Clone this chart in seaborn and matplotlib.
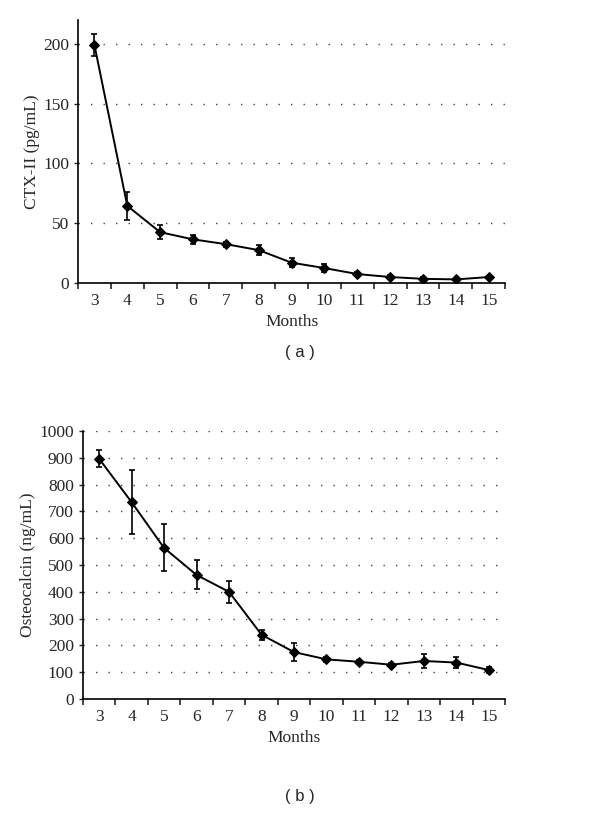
import numpy as np
import pandas as pd
import matplotlib
matplotlib.use('Agg')
import matplotlib.pyplot as plt
import seaborn as sns

# values (mean +/- error)
months = [3, 4, 5, 6, 7, 8, 9, 10, 11, 12, 13, 14, 15]
ctx_mean = [199, 64.5, 42.5, 36.5, 32.5, 27.5, 17, 12.5, 7.5, 5, 3.5, 3, 5]
ctx_err = [9, 12, 6, 4, 2, 4, 4, 3, 2, 1.5, 1.5, 1, 1]
ost_mean = [897, 735, 564, 463, 400, 240, 175, 148, 139, 128, 142, 136, 108]
ost_err = [31, 118, 88, 54, 42, 18, 33, 8, 8, 6, 25, 21, 12]

sns.set_style('white')
plt.rcParams['font.family'] = ['Liberation Serif', 'DejaVu Serif']
plt.rcParams['font.size'] = 12

fig = plt.figure(figsize=(6, 8.17), dpi=100)
ax1 = fig.add_axes([0.13, 0.6536, 0.712, 0.322])
ax2 = fig.add_axes([0.138, 0.1444, 0.704, 0.328])


def draw(ax, mean, err, ylabel, ylim, yticks):
    df = pd.DataFrame({'pos': np.arange(len(months)), 'val': mean})
    ax.yaxis.grid(True, color='#444444', linestyle=(0, (1, 8)), lw=1)
    ax.set_axisbelow(True)
    ax.errorbar(df['pos'], df['val'], yerr=err, fmt='none', ecolor='k',
                elinewidth=1.2, capsize=2, capthick=1.2, zorder=3)
    sns.lineplot(data=df, x='pos', y='val', ax=ax, color='k', lw=1.4,
                 marker='D', markersize=5.5, markeredgecolor='k', zorder=4)
    ax.set_xlim(-0.5, len(months) - 0.5)
    ax.set_ylim(*ylim)
    ax.set_yticks(yticks)
    ax.set_xticks(np.arange(len(months)))
    ax.set_xticklabels([str(m) for m in months])
    ax.set_xticks(np.arange(len(months) + 1) - 0.5, minor=True)
    ax.tick_params(axis='x', which='major', length=0, pad=7, labelsize=12.5)
    ax.tick_params(axis='x', which='minor', length=4, width=1.2, direction='out', bottom=True)
    ax.tick_params(axis='y', length=3, width=1, direction='out', left=True, labelsize=12.5)
    ax.set_ylabel(ylabel, fontsize=12.5, labelpad=2)
    ax.set_xlabel('Months', fontsize=12.5, labelpad=4)
    for s in ['top', 'right']:
        ax.spines[s].set_visible(False)
    for s in ['left', 'bottom']:
        ax.spines[s].set_color('k')
        ax.spines[s].set_linewidth(1.2)


draw(ax1, ctx_mean, ctx_err, 'CTX-II (pg/mL)', (0, 220), [0, 50, 100, 150, 200])
draw(ax2, ost_mean, ost_err, 'Osteocalcin (ng/mL)', (0, 1000), np.arange(0, 1001, 100))

fig.text(0.5, 1 - 352 / 817, '( a )', ha='center', va='center', fontsize=12, family='Liberation Sans')
fig.text(0.5, 1 - 796 / 817, '( b )', ha='center', va='center', fontsize=12, family='Liberation Sans')

fig.savefig('out.png', dpi=100)
